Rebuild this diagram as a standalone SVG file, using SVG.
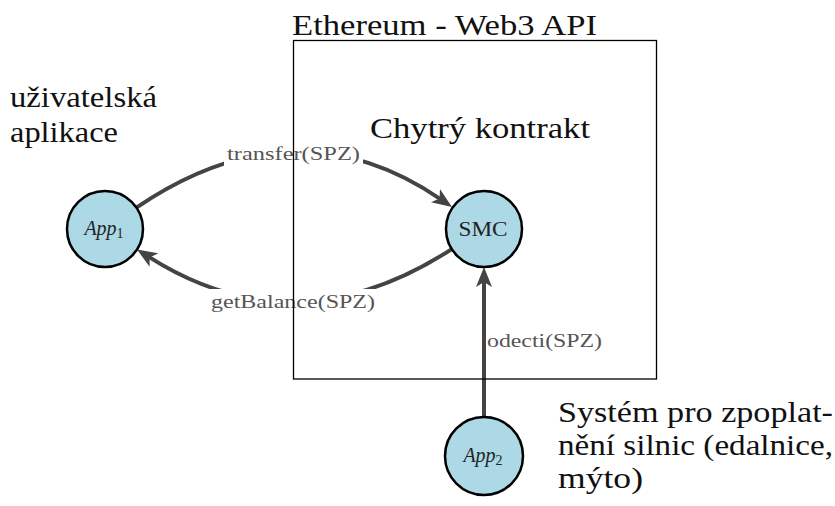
<svg xmlns="http://www.w3.org/2000/svg" width="835" height="506" viewBox="0 0 835 506">
<style>
.big{font-family:"Liberation Serif","DejaVu Serif",serif;font-size:29px;fill:#111}
.lbl{font-family:"Liberation Serif","DejaVu Serif",serif;font-size:18px;fill:#555}
.ntx{font-family:"Liberation Serif","DejaVu Serif",serif;font-size:20px;fill:#222}
.node{fill:#add8e6;stroke:#000;stroke-width:2.5}
.edge{fill:none;stroke:#444;stroke-width:4;marker-end:url(#arr)}
</style>
<defs>
<marker id="arr" markerUnits="userSpaceOnUse" markerWidth="20" markerHeight="16" viewBox="0 0 20 16" refX="6" refY="8" orient="auto">
<path d="M0,0 L20,8 L0,16 L5,8 z" fill="#444"/>
</marker>
</defs>
<rect width="835" height="506" fill="#fff"/>
<g id="connectors">
<path class="edge" d="M136.4,207.6 Q295,100 440.4,199.1"/>
<path class="edge" d="M451,249.6 Q295,350 148.8,256.9"/>
<path class="edge" d="M484,417 L484,281"/>
<rect x="224" y="143" width="139" height="24" fill="#fff"/>
<rect x="207" y="289" width="171" height="25" fill="#fff"/>
<text class="lbl" x="227" y="160" textLength="133" lengthAdjust="spacingAndGlyphs">transfer(SPZ)</text>
<text class="lbl" x="211" y="308" textLength="164" lengthAdjust="spacingAndGlyphs">getBalance(SPZ)</text>
<text class="lbl" x="487" y="347" textLength="115" lengthAdjust="spacingAndGlyphs">odecti(SPZ)</text>
</g>
<g id="ethereum">
<rect x="293.5" y="40.5" width="363" height="338.5" fill="none" stroke="#000" stroke-width="1.3"/>
<text class="big" x="292" y="35" textLength="305" lengthAdjust="spacingAndGlyphs">Ethereum - Web3 API</text>
<text class="big" x="370" y="138" textLength="220" lengthAdjust="spacingAndGlyphs">Chytrý kontrakt</text>
</g>
<g id="app1">
<circle class="node" cx="105" cy="229" r="38"/>
<text class="ntx" x="104" y="235" text-anchor="middle"><tspan font-style="italic">App</tspan><tspan font-size="14" dy="3">1</tspan></text>
<text class="big" x="10" y="107" textLength="147" lengthAdjust="spacingAndGlyphs">uživatelská</text>
<text class="big" x="10" y="142" textLength="108" lengthAdjust="spacingAndGlyphs">aplikace</text>
</g>
<g id="smc">
<circle class="node" cx="484" cy="229" r="38"/>
<text class="ntx" x="483" y="236" text-anchor="middle" textLength="49" lengthAdjust="spacingAndGlyphs">SMC</text>
</g>
<g id="app2">
<circle class="node" cx="484" cy="456" r="39"/>
<text class="ntx" x="483" y="462" text-anchor="middle"><tspan font-style="italic">App</tspan><tspan font-size="14" dy="3">2</tspan></text>
<text class="big" x="558" y="422" textLength="275" lengthAdjust="spacingAndGlyphs">Systém pro zpoplat-</text>
<text class="big" x="558" y="455" textLength="275" lengthAdjust="spacingAndGlyphs">nění silnic (edalnice,</text>
<text class="big" x="558" y="488" textLength="85" lengthAdjust="spacingAndGlyphs">mýto)</text>
</g>
</svg>
